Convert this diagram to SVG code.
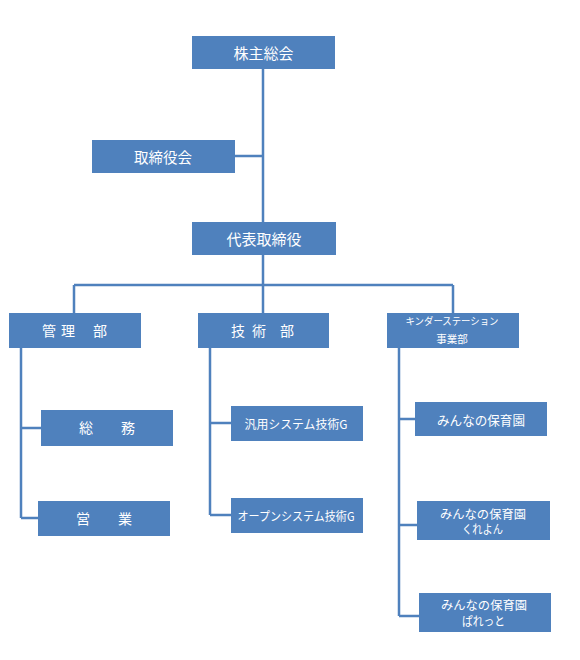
<svg xmlns="http://www.w3.org/2000/svg" width="580" height="660" viewBox="0 0 580 660">
<style>
.box{fill:#4F81BD;}
.t{fill:#FFFFFF;font-family:"Noto Sans CJK JP","Noto Sans CJK SC",sans-serif;text-anchor:middle;dominant-baseline:central;}
.l{fill:none;stroke:#4F81BD;stroke-width:2.5;}
</style>
<rect width="580" height="660" fill="#FFFFFF"/>
<g id="connectors">
<path class="l" d="M263,69 V222 M235,156 H263 M263,255 V285 M74,285 H453 M74,285 V313 M263,285 V313 M453,285 V313"/>
<path class="l" d="M21,348 V518 M21,428 H41 M21,518 H38"/>
<path class="l" d="M210,348 V515 M210,423 H231 M210,515 H231"/>
<path class="l" d="M399,348 V616 M399,419 H415 M399,525 H417 M399,616 H419"/>
</g>
<g id="n1"><rect class="box" x="192" y="36" width="143" height="33"/><text class="t" x="263.5" y="52" font-size="15">株主総会</text></g>
<g id="n2"><rect class="box" x="92" y="140" width="143" height="33"/><text class="t" x="163" y="156" font-size="14.5">取締役会</text></g>
<g id="n3"><rect class="box" x="192" y="222" width="144" height="33"/><text class="t" x="264" y="238" font-size="15">代表取締役</text></g>
<g id="n4"><rect class="box" x="9" y="313" width="132" height="35"/><text class="t" x="49 68 100" y="330" font-size="14">管理部</text></g>
<g id="n5"><rect class="box" x="198" y="313" width="131" height="35"/><text class="t" x="238 259 287" y="330" font-size="14">技術部</text></g>
<g id="n6"><rect class="box" x="387" y="313" width="132" height="35"/><text class="t" x="452" y="320" font-size="10" textLength="93" lengthAdjust="spacingAndGlyphs">キンダーステーション</text><text class="t" x="452" y="338" font-size="10.5">事業部</text></g>
<g id="n7"><rect class="box" x="41" y="410" width="132" height="36"/><text class="t" x="107" y="427" font-size="14">総　　務</text></g>
<g id="n8"><rect class="box" x="38" y="501" width="132" height="35"/><text class="t" x="104" y="518" font-size="14">営　　業</text></g>
<g id="n9"><rect class="box" x="231" y="406" width="132" height="35"/><text class="t" x="296" y="423" font-size="12" textLength="103" lengthAdjust="spacingAndGlyphs">汎用システム技術G</text></g>
<g id="n10"><rect class="box" x="231" y="498" width="132" height="35"/><text class="t" x="296" y="515" font-size="12" textLength="117" lengthAdjust="spacingAndGlyphs">オープンシステム技術G</text></g>
<g id="n11"><rect class="box" x="415" y="402" width="132" height="34"/><text class="t" x="481" y="419" font-size="13" textLength="88" lengthAdjust="spacingAndGlyphs">みんなの保育園</text></g>
<g id="n12"><rect class="box" x="417" y="501" width="133" height="39"/><text class="t" x="483" y="513" font-size="12" textLength="86" lengthAdjust="spacingAndGlyphs">みんなの保育園</text><text class="t" x="482.5" y="528.5" font-size="12" textLength="41" lengthAdjust="spacingAndGlyphs">くれよん</text></g>
<g id="n13"><rect class="box" x="419" y="593" width="132" height="39"/><text class="t" x="484" y="604.5" font-size="12" textLength="86" lengthAdjust="spacingAndGlyphs">みんなの保育園</text><text class="t" x="483.5" y="620" font-size="12" textLength="43" lengthAdjust="spacingAndGlyphs">ぱれっと</text></g>
</svg>
